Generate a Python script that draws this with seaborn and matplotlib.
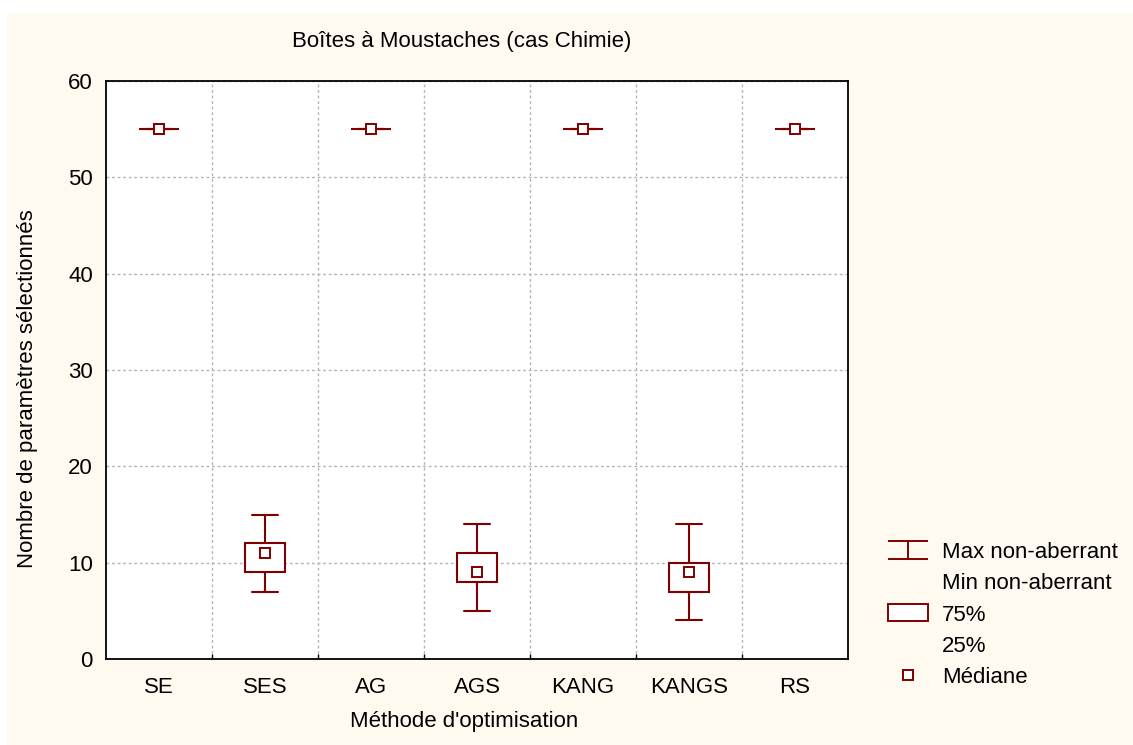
import numpy as np
import pandas as pd
import matplotlib.pyplot as plt
from matplotlib.lines import Line2D
from matplotlib.patches import Patch, Rectangle
from matplotlib.path import Path
import seaborn as sns

# values (number of selected parameters)
methods = ['SE', 'SES', 'AG', 'AGS', 'KANG', 'KANGS', 'RS']
mins    = [55, 7, 55, 5, 55, 4, 55]
q1s     = [55, 9, 55, 8, 55, 7, 55]
medians = [55, 11, 55, 9, 55, 9, 55]
q3s     = [55, 12, 55, 11, 55, 10, 55]
maxs    = [55, 15, 55, 14, 55, 14, 55]

DARK_RED = '#800000'
CREAM = '#FFFAF0'
FS = 16

# five summary values per method -> quartiles land exactly on q1/q3
rows = []
for i, m in enumerate(methods):
    for v in (mins[i], q1s[i], medians[i], q3s[i], maxs[i]):
        rows.append({'method': m, 'value': v})
df = pd.DataFrame(rows)
df_med = pd.DataFrame({'method': methods, 'value': medians})

sns.set_style('ticks')
plt.rcParams['font.family'] = ['Liberation Sans', 'DejaVu Sans']
plt.rcParams['font.size'] = FS
plt.rcParams['text.color'] = 'black'
plt.rcParams['axes.labelcolor'] = 'black'
plt.rcParams['xtick.color'] = 'black'
plt.rcParams['ytick.color'] = 'black'

W, H = 1133, 745
fig = plt.figure(figsize=(W / 100, H / 100), dpi=100)
fig.patch.set_facecolor('white')
fig.patches.append(Rectangle((7 / W, 0), 1, (H - 13) / H, transform=fig.transFigure,
                             facecolor=CREAM, edgecolor='none', zorder=-10))

ax = fig.add_axes([106 / W, 1 - 659 / H, (848 - 106) / W, (659 - 81) / H])
ax.set_facecolor('white')

sns.boxplot(data=df, x='method', y='value', order=methods, ax=ax,
            color='white', linecolor=DARK_RED, linewidth=1.5, width=0.38,
            whis=(0, 100), capwidths=0.25, showfliers=False,
            medianprops=dict(visible=False), zorder=3)
sns.pointplot(data=df_med, x='method', y='value', order=methods, ax=ax,
              errorbar=None, linestyle='none', marker='s', markersize=7.5,
              color=DARK_RED, markerfacecolor='white', markeredgewidth=1.4,
              zorder=4)

ax.set_xlim(-0.5, len(methods) - 0.5)
ax.set_ylim(0, 60)
ax.set_yticks(np.arange(0, 61, 10))
ax.set_xticks(range(len(methods)))
ax.set_xticklabels(methods)
ax.set_xticks(np.arange(0.5, len(methods) - 0.5, 1), minor=True)
ax.tick_params(axis='x', which='major', length=0, pad=13, labelsize=FS, labelcolor='black')
ax.tick_params(axis='x', which='minor', direction='in', length=3.5, width=1, color='black')
ax.tick_params(axis='y', length=0, pad=9.5, labelsize=FS, labelcolor='black')
ax.grid(False)
ax.yaxis.grid(True, color='#b4b4b4', linestyle=(0, (2, 2)), linewidth=1)
ax.xaxis.grid(True, which='minor', color='#b4b4b4', linestyle=(0, (2, 2)), linewidth=1)
ax.set_axisbelow(True)
for s in ax.spines.values():
    s.set_visible(True)
    s.set_linewidth(1.3)
    s.set_color('black')

ax.set_xlabel("Méthode d'optimisation", fontsize=FS)
ax.set_ylabel('Nombre de paramètres sélectionnés', fontsize=FS)
ax.xaxis.set_label_coords((464 - 106) / 742, -(711 - 659) / 578)
ax.yaxis.set_label_coords((38 - 106) / 742, (659 - 389) / 578)
fig.text(462 / W, 1 - 42 / H, 'Boîtes à Moustaches (cas Chimie)',
         ha='center', va='center', fontsize=FS)

# legend
ibeam = Path([(-1, 0.45), (1, 0.45), (0, 0.45), (0, -0.45), (-1, -0.45), (1, -0.45)],
             [Path.MOVETO, Path.LINETO, Path.MOVETO, Path.LINETO, Path.MOVETO, Path.LINETO])
blank = Line2D([], [], linestyle='none')
handles = [
    Line2D([], [], linestyle='none', marker=ibeam, markersize=29,
           markeredgecolor=DARK_RED, markeredgewidth=1.4),
    blank,
    Patch(facecolor='white', edgecolor=DARK_RED, linewidth=1.4),
    blank,
    Line2D([], [], linestyle='none', marker='s', markersize=7,
           markerfacecolor='white', markeredgecolor=DARK_RED, markeredgewidth=1.4),
]
labels = ['Max non-aberrant', 'Min non-aberrant', '75%', '25%', 'Médiane']
fig.legend(handles, labels, loc='upper left', bbox_to_anchor=(888 / W, 1 - 542 / H),
           bbox_transform=fig.transFigure, frameon=False, fontsize=FS,
           borderpad=0, borderaxespad=0, handlelength=1.8, handleheight=0.8,
           handletextpad=0.62, labelspacing=0.45)

fig.savefig('out.png', dpi=100, facecolor=fig.get_facecolor())
